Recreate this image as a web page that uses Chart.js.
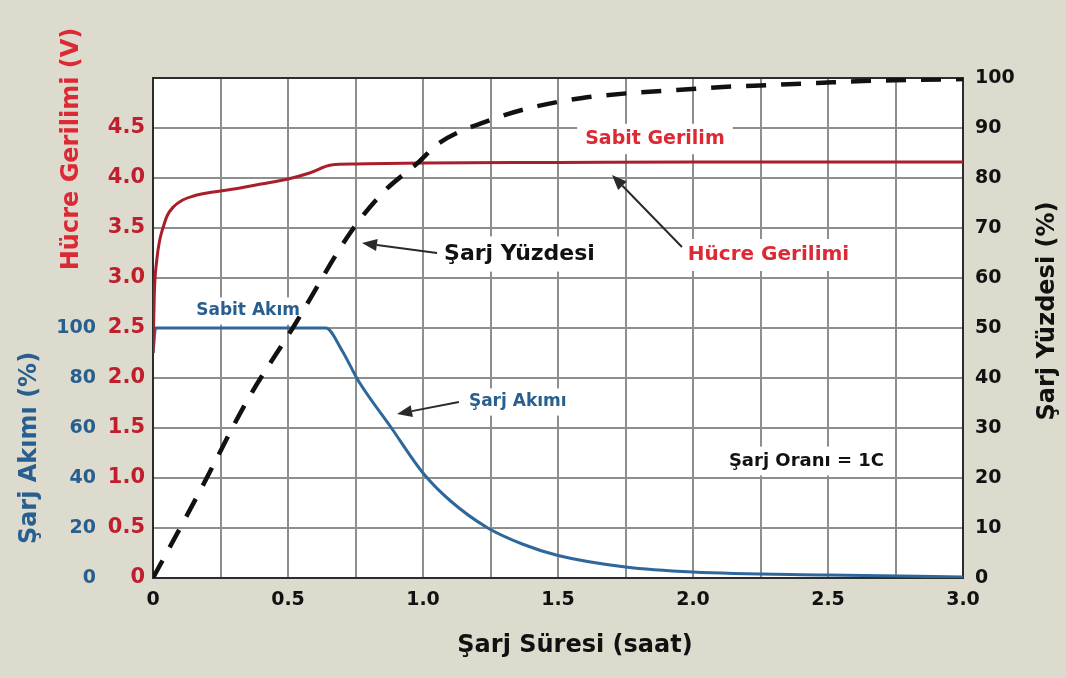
<!DOCTYPE html>
<html>
<head>
<meta charset="utf-8">
<script src="https://cdn.jsdelivr.net/npm/chart.js@4.4.1/dist/chart.umd.min.js"></script>
<style>
  html, body { margin: 0; padding: 0; background: #dcdbcd; }
  #wrap { width: 1066px; height: 678px; }
</style>
</head>
<body>
<div id="wrap"><canvas id="chargeChart" width="1066" height="678"></canvas></div>
<script>
// x axis labels (hours)
const xTickLabels = [0, 0.5, 1.0, 1.5, 2.0, 2.5, 3.0];

// Hücre gerilimi (V)
const voltageTime   = [0, 0.005, 0.014, 0.025, 0.038, 0.052, 0.075, 0.11, 0.15, 0.2, 0.3, 0.4, 0.5, 0.58, 0.66, 0.75, 1.0, 1.5, 2.0, 2.5, 3.0];
const voltageValues = [2.25, 2.85, 3.18, 3.38, 3.51, 3.62, 3.71, 3.78, 3.82, 3.85, 3.89, 3.94, 3.99, 4.05, 4.13, 4.14, 4.15, 4.155, 4.16, 4.16, 4.16];

// Şarj akımı (%)
const currentTime   = [0, 0.01, 0.64, 0.7, 0.76, 0.88, 1.0, 1.1, 1.24, 1.37, 1.5, 1.75, 2.0, 2.5, 3.0];
const currentValues = [90, 100, 100, 91, 79, 60.5, 42, 31, 20, 13.5, 9, 4.4, 2.4, 1.2, 0.4];

// Şarj yüzdesi (%)
const chargeTime   = [0, 0.17, 0.35, 0.52, 0.73, 0.85, 0.98, 1.06, 1.25, 1.41, 1.59, 1.77, 1.94, 2.11, 2.29, 2.46, 2.63, 2.8, 3.0];
const chargeValues = [0, 17, 35.6, 50.2, 69, 77, 83, 87, 91.6, 94.2, 96, 97, 97.6, 98.2, 98.6, 99, 99.4, 99.6, 99.8];

const RED_LINE = '#a81f2b';
const RED_TICK = '#c01e2c';
const RED_TEXT = '#dc2934';
const BLUE_LINE = '#2e679b';
const BLUE_TEXT = '#285f8e';
const FONT = 'DejaVu Sans';

// labels inside the plot, placed in (hours, volts)
const notes = [
  { text: 'Sabit Gerilim', x: 1.859, y: 4.39, align: 'center', color: RED_TEXT, size: 19 },
  { text: 'Hücre Gerilimi', x: 1.981, y: 3.23, align: 'left', color: RED_TEXT, size: 20 },
  { text: 'Şarj Yüzdesi', x: 1.078, y: 3.24, align: 'left', color: '#111', size: 22 },
  { text: 'Sabit Akım', x: 0.352, y: 2.67, align: 'center', color: BLUE_TEXT, size: 17 },
  { text: 'Şarj Akımı', x: 1.17, y: 1.76, align: 'left', color: BLUE_TEXT, size: 17 },
  { text: 'Şarj Oranı = 1C', x: 2.133, y: 1.17, align: 'left', color: '#111', size: 18 }
];
const arrows = [
  { from: [1.959, 3.31], to: [1.70, 4.03] },
  { from: [1.052, 3.25], to: [0.774, 3.35] },
  { from: [1.133, 1.76], to: [0.904, 1.64] }
];

function toPts(xs, ys) {
  return xs.map((x, i) => ({ x: x, y: ys[i] }));
}

function noteBox(ctx, n, xs, ys) {
  ctx.font = 'bold ' + n.size + 'px ' + FONT;
  const w = ctx.measureText(n.text).width;
  const px = xs.getPixelForValue(n.x);
  const py = ys.getPixelForValue(n.y);
  const left = n.align === 'center' ? px - w / 2 : px;
  return { left: left, top: py, w: w };
}

function drawRotated(ctx, text, x, y, size, color) {
  ctx.save();
  ctx.translate(x, y);
  ctx.rotate(-Math.PI / 2);
  ctx.font = 'bold ' + size + 'px ' + FONT;
  ctx.fillStyle = color;
  ctx.textAlign = 'center';
  ctx.textBaseline = 'middle';
  ctx.fillText(text, 0, 0);
  ctx.restore();
}

const decorPlugin = {
  id: 'decor',
  beforeDraw(chart) {
    const { ctx, chartArea: a } = chart;
    ctx.save();
    ctx.fillStyle = '#ffffff';
    ctx.fillRect(a.left, a.top, a.right - a.left, a.bottom - a.top);
    ctx.restore();
  },
  beforeDatasetsDraw(chart) {
    const { ctx, chartArea: a } = chart;
    const xs = chart.scales.x, ys = chart.scales.volt;
    ctx.save();
    // white boxes behind the notes hide the grid
    ctx.fillStyle = '#ffffff';
    notes.forEach(n => {
      const b = noteBox(ctx, n, xs, ys);
      ctx.fillRect(b.left - 8, b.top - n.size * 0.8, b.w + 16, n.size * 1.6);
    });
    ctx.strokeStyle = '#2c2c2c';
    ctx.lineWidth = 2;
    ctx.strokeRect(a.left, a.top, a.right - a.left, a.bottom - a.top);
    ctx.restore();
  },
  afterDatasetsDraw(chart) {
    const { ctx } = chart;
    const xs = chart.scales.x, ys = chart.scales.volt;
    ctx.save();
    notes.forEach(n => {
      const b = noteBox(ctx, n, xs, ys);
      ctx.fillStyle = n.color;
      ctx.textAlign = 'left';
      ctx.textBaseline = 'middle';
      ctx.fillText(n.text, b.left, b.top);
    });
    // arrows
    ctx.strokeStyle = '#2a2a2a';
    ctx.fillStyle = '#2a2a2a';
    ctx.lineWidth = 2;
    arrows.forEach(ar => {
      const x1 = xs.getPixelForValue(ar.from[0]), y1 = ys.getPixelForValue(ar.from[1]);
      const x2 = xs.getPixelForValue(ar.to[0]), y2 = ys.getPixelForValue(ar.to[1]);
      const ang = Math.atan2(y2 - y1, x2 - x1);
      const hl = 15, hw = 6;
      const bx = x2 - hl * Math.cos(ang), by = y2 - hl * Math.sin(ang);
      ctx.beginPath();
      ctx.moveTo(x1, y1);
      ctx.lineTo(bx, by);
      ctx.stroke();
      ctx.beginPath();
      ctx.moveTo(x2, y2);
      ctx.lineTo(bx + hw * Math.sin(ang), by - hw * Math.cos(ang));
      ctx.lineTo(bx - hw * Math.sin(ang), by + hw * Math.cos(ang));
      ctx.closePath();
      ctx.fill();
    });
    ctx.restore();

    // axis titles
    drawRotated(ctx, 'Hücre Gerilimi (V)', 72, 149, 24, RED_TEXT);
    drawRotated(ctx, 'Şarj Akımı (%)', 30, 448, 24, BLUE_TEXT);
    drawRotated(ctx, 'Şarj Yüzdesi (%)', 1048, 311, 24, '#111');
    ctx.save();
    ctx.font = 'bold 24px ' + FONT;
    ctx.fillStyle = '#111';
    ctx.textAlign = 'center';
    ctx.textBaseline = 'middle';
    ctx.fillText('Şarj Süresi (saat)', 575, 646);
    ctx.restore();
  }
};

Chart.defaults.font.family = FONT;

new Chart(document.getElementById('chargeChart'), {
  type: 'line',
  data: {
    datasets: [
      {
        label: 'Şarj Yüzdesi',
        data: toPts(chargeTime, chargeValues),
        yAxisID: 'pct',
        borderColor: '#111111',
        borderWidth: 4.5,
        borderDash: [20, 15],
        pointRadius: 0,
        cubicInterpolationMode: 'monotone',
        fill: false
      },
      {
        label: 'Hücre Gerilimi',
        data: toPts(voltageTime, voltageValues),
        yAxisID: 'volt',
        borderColor: RED_LINE,
        borderWidth: 3,
        pointRadius: 0,
        cubicInterpolationMode: 'monotone',
        fill: false
      },
      {
        label: 'Şarj Akımı',
        data: toPts(currentTime, currentValues),
        yAxisID: 'curr',
        borderColor: BLUE_LINE,
        borderWidth: 3,
        pointRadius: 0,
        cubicInterpolationMode: 'monotone',
        fill: false
      }
    ]
  },
  options: {
    responsive: false,
    animation: false,
    layout: { padding: { top: 78, left: 0, right: 0, bottom: 0 } },
    plugins: { legend: { display: false }, tooltip: { enabled: false } },
    scales: {
      x: {
        type: 'linear',
        min: 0, max: 3,
        afterFit(s) { s.height = 100; },
        ticks: {
          stepSize: 0.25,
          autoSkip: false,
          maxRotation: 0,
          padding: 11,
          color: '#111',
          font: { size: 19, weight: 'bold' },
          callback: v => {
            const hit = xTickLabels.find(t => Math.abs(t - v) < 1e-6);
            if (hit === undefined) return '';
            return hit === 0 ? '0' : hit.toFixed(1);
          }
        },
        grid: { color: '#8e8e8e', lineWidth: 2, drawTicks: false },
        border: { display: false }
      },
      curr: {
        type: 'linear',
        position: 'left',
        weight: 1,
        min: 0, max: 200,
        afterFit(s) { s.width = 97; },
        ticks: {
          stepSize: 20,
          padding: 1,
          color: BLUE_TEXT,
          font: { size: 19, weight: 'bold' },
          callback: v => (v <= 100 ? String(v) : '')
        },
        grid: { display: false, drawTicks: false },
        border: { display: false }
      },
      volt: {
        type: 'linear',
        position: 'left',
        weight: 0,
        min: 0, max: 5,
        afterFit(s) { s.width = 56; },
        ticks: {
          stepSize: 0.5,
          padding: 8,
          color: RED_TICK,
          font: { size: 21, weight: 'bold' },
          callback: v => (v >= 5 ? '' : (v === 0 ? '0' : v.toFixed(1)))
        },
        grid: { color: '#8e8e8e', lineWidth: 2, drawTicks: false },
        border: { display: false }
      },
      pct: {
        type: 'linear',
        position: 'right',
        min: 0, max: 100,
        afterFit(s) { s.width = 103; },
        ticks: {
          stepSize: 10,
          padding: 12,
          color: '#111',
          font: { size: 19, weight: 'bold' }
        },
        grid: { display: false, drawTicks: false },
        border: { display: false }
      }
    }
  },
  plugins: [decorPlugin]
});
</script>
</body>
</html>
